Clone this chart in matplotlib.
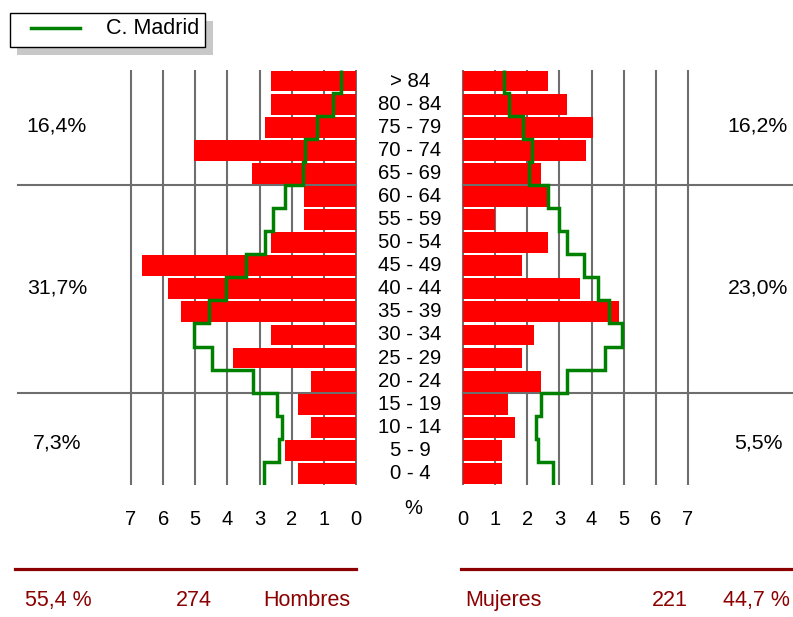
import numpy as np
import matplotlib.pyplot as plt
import matplotlib.transforms as mtransforms
from matplotlib.patches import Rectangle
from matplotlib.lines import Line2D

plt.rcParams['font.family'] = ['Liberation Sans', 'DejaVu Sans']

# datos (porcentaje sobre el total de la poblacion)
edades = ['> 84', '80 - 84', '75 - 79', '70 - 74', '65 - 69', '60 - 64',
          '55 - 59', '50 - 54', '45 - 49', '40 - 44', '35 - 39', '30 - 34',
          '25 - 29', '20 - 24', '15 - 19', '10 - 14', '5 - 9', '0 - 4']
hombres = [2.63, 2.63, 2.83, 5.05, 3.23, 1.62, 1.62, 2.63, 6.67,
           5.86, 5.45, 2.63, 3.84, 1.41, 1.82, 1.41, 2.22, 1.82]
mujeres = [2.63, 3.23, 4.04, 3.84, 2.42, 2.63, 1.01, 2.63, 1.82,
           3.64, 4.85, 2.22, 1.82, 2.42, 1.41, 1.62, 1.21, 1.21]
madrid_h = [0.46, 0.73, 1.20, 1.60, 1.65, 2.22, 2.59, 2.83, 3.43,
            4.04, 4.56, 5.03, 4.47, 3.21, 2.46, 2.29, 2.39, 2.86]
madrid_m = [1.28, 1.42, 1.87, 2.15, 2.05, 2.63, 3.00, 3.23, 3.75,
            4.20, 4.55, 4.94, 4.43, 3.23, 2.43, 2.26, 2.33, 2.79]
ticks = [0, 1, 2, 3, 4, 5, 6, 7]

grupos_h = ['16,4%', '31,7%', '7,3%']
grupos_m = ['16,2%', '23,0%', '5,5%']
grupos_pos = [1.95, 8.97, 15.7]
cortes = [4.5, 13.5]

totales_h = ['55,4 %', '274', 'Hombres']
totales_m = ['Mujeres', '221', '44,7 %']
leyenda = 'C. Madrid'

W, H = 793, 617
fig = plt.figure(figsize=(W / 100, H / 100), dpi=100)


def px_axes(x0, x1, y0, y1):
    return fig.add_axes([x0 / W, 1 - y1 / H, (x1 - x0) / W, (y1 - y0) / H])


axL = px_axes(131, 356, 69.5, 485)
axR = px_axes(463, 688, 69.5, 485)

y = np.arange(len(edades))
edges = np.arange(len(edades) + 1) - 0.5
grid_c = '#6e6e6e'

for ax, vals, ref in ((axL, hombres, madrid_h), (axR, mujeres, madrid_m)):
    ax.vlines(ticks, -0.5, len(edades) - 0.5, color=grid_c, lw=1.5,
              zorder=1, clip_on=False)
    ax.barh(y, vals, height=0.9, color='#ff0000', zorder=2)
    ax.stairs(ref, edges, orientation='horizontal', baseline=None,
              color='#008000', lw=2.5, zorder=3)
    ax.set_ylim(len(edades) - 0.5, -0.5)
    ax.set_yticks([])
    ax.set_xticks(ticks)
    ax.tick_params(axis='x', length=0, pad=18, labelsize=14.5)
    for s in ax.spines.values():
        s.set_visible(False)

axL.set_xlim(7, 0)
axR.set_xlim(0, 7)

for c in cortes:
    axL.axhline(c, xmin=(18 - 131) / 225, xmax=1, color=grid_c, lw=1.5,
                clip_on=False, zorder=1)
    axR.axhline(c, xmin=0, xmax=(795 - 463) / 225, color=grid_c, lw=1.5,
                clip_on=False, zorder=1)

trL = mtransforms.blended_transform_factory(axL.transAxes, axL.transData)
trR = mtransforms.blended_transform_factory(axR.transAxes, axR.transData)
for lab_h, lab_m, pos in zip(grupos_h, grupos_m, grupos_pos):
    axL.text(-0.329, pos, lab_h, transform=trL, ha='center', va='center',
             fontsize=15.3)
    axR.text(1.311, pos, lab_m, transform=trR, ha='center', va='center',
             fontsize=15.3)

for i, e in enumerate(edades):
    axR.text(-0.2356, i, e, transform=trR, ha='center', va='center',
             fontsize=14.7)

fig.text(413 / W, 1 - 509 / H, '%', ha='center', va='center', fontsize=14.5)

# totales
rojo = '#8b0000'
fig.add_artist(Line2D([15 / W, 356 / W], [1 - 569 / H] * 2, color=rojo, lw=2.3))
fig.add_artist(Line2D([461 / W, 793 / W], [1 - 569 / H] * 2, color=rojo, lw=2.3))
ty = 1 - 606 / H
fs = 15.5
fig.text(25 / W, ty, totales_h[0], ha='left', va='baseline', color=rojo, fontsize=fs)
fig.text(212 / W, ty, totales_h[1], ha='right', va='baseline', color=rojo, fontsize=fs)
fig.text(350 / W, ty, totales_h[2], ha='right', va='baseline', color=rojo, fontsize=fs)
fig.text(465 / W, ty, totales_m[0], ha='left', va='baseline', color=rojo, fontsize=fs)
fig.text(688 / W, ty, totales_m[1], ha='right', va='baseline', color=rojo, fontsize=fs)
fig.text(790 / W, ty, totales_m[2], ha='right', va='baseline', color=rojo, fontsize=fs)

# leyenda
fig.add_artist(Rectangle((17 / W, 1 - 55 / H), 196 / W, 34 / H,
                         facecolor='#c8c8c8', edgecolor='none'))
fig.add_artist(Rectangle((10 / W, 1 - 47 / H), 195 / W, 34 / H,
                         facecolor='white', edgecolor='black', lw=1))
fig.add_artist(Line2D([31 / W, 80 / W], [1 - 28 / H] * 2, color='#008000', lw=2.5))
fig.text(106 / W, 1 - 29 / H, leyenda, ha='left', va='center', fontsize=15.5)

fig.savefig('out.png', dpi=100)
